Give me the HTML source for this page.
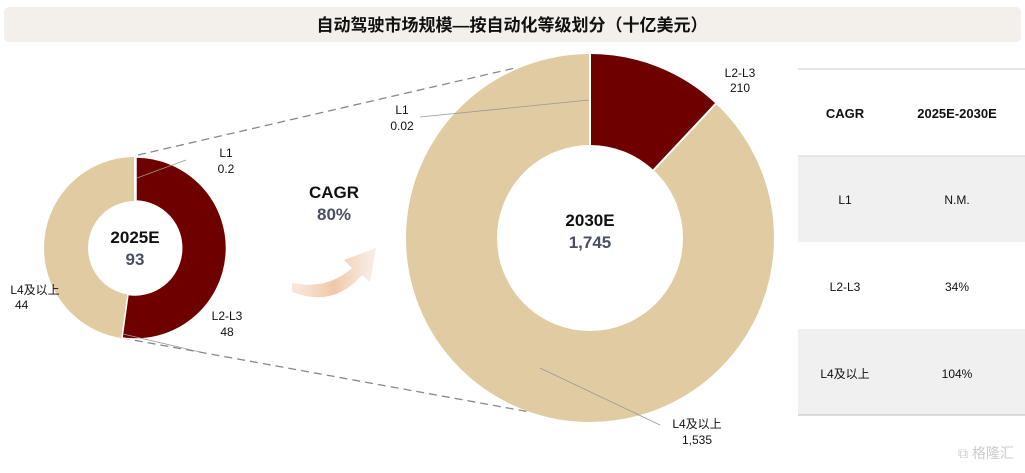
<!DOCTYPE html>
<html><head><meta charset="utf-8"><style>
body{margin:0;width:1025px;height:468px;background:#fff;overflow:hidden;font-family:"Liberation Sans","Noto Sans CJK SC",sans-serif}
</style></head><body>
<svg width="1025" height="468" viewBox="0 0 1025 468" xmlns="http://www.w3.org/2000/svg" font-family="Liberation Sans, Noto Sans CJK SC, sans-serif">
<defs>
<linearGradient id="ag" x1="0" y1="0" x2="1" y2="0">
<stop offset="0" stop-color="#f3d9c4" stop-opacity="0.6"/>
<stop offset="0.5" stop-color="#efc8a8"/>
<stop offset="1" stop-color="#f5e4d6" stop-opacity="0.6"/>
</linearGradient>
</defs>
<rect x="4" y="7" width="1017" height="35" rx="5" fill="#f3efea"/>
<text x="512" y="31" text-anchor="middle" font-size="17" font-weight="bold" fill="#111">自动驾驶市场规模—按自动化等级划分（十亿美元）</text>

<line x1="138" y1="155" x2="515" y2="68" stroke="#888" stroke-width="1.3" stroke-dasharray="8,5"/>
<line x1="122" y1="338" x2="530" y2="412" stroke="#888" stroke-width="1.3" stroke-dasharray="8,5"/>

<circle cx="135" cy="248" r="69" fill="none" stroke="#e0cba2" stroke-width="44"/>
<path d="M136,157 A91,91 0 1 1 122,338 L128,294.5 A47,47 0 1 0 136,201 Z" fill="#6e0000" stroke="#fff" stroke-width="1.5"/>
<line x1="135" y1="157" x2="135" y2="201" stroke="#fff" stroke-width="2"/>
<line x1="137" y1="178" x2="186" y2="160" stroke="#999" stroke-width="0.8"/>
<line x1="123" y1="334" x2="200" y2="352" stroke="#999" stroke-width="0.8"/>
<text x="135" y="243" text-anchor="middle" font-size="17" font-weight="bold" fill="#111">2025E</text>
<text x="135" y="265" text-anchor="middle" font-size="17" font-weight="bold" fill="#4a4f63">93</text>
<text x="226" y="157" text-anchor="middle" font-size="12" fill="#111">L1</text>
<text x="226" y="173" text-anchor="middle" font-size="12" fill="#111">0.2</text>
<text x="227" y="320" text-anchor="middle" font-size="12" fill="#111">L2-L3</text>
<text x="227" y="336" text-anchor="middle" font-size="12" fill="#111">48</text>
<text x="35" y="294" text-anchor="middle" font-size="12" fill="#111">L4及以上</text>
<text x="15" y="309" font-size="12" fill="#111">44</text>

<text x="334" y="198" text-anchor="middle" font-size="17" font-weight="bold" fill="#111">CAGR</text>
<text x="334" y="220" text-anchor="middle" font-size="17" font-weight="bold" fill="#4a4f63">80%</text>
<path d="M292,283 Q328,290 352,268 L344,260 L376,248 L370,282 L362,275 Q334,308 292,292 Z" fill="url(#ag)"/>

<circle cx="590" cy="238" r="138.5" fill="none" stroke="#e0cba2" stroke-width="91"/>
<path d="M590,54 A184,184 0 0 1 715.8,103.7 L653.6,170.1 A93,93 0 0 0 590,145 Z" fill="#6e0000"/>
<line x1="590" y1="54" x2="590" y2="145" stroke="#fff" stroke-width="2"/>
<line x1="715.8" y1="103.7" x2="653.6" y2="170.1" stroke="#fff" stroke-width="2"/>
<line x1="589" y1="100" x2="420" y2="117" stroke="#999" stroke-width="0.8"/>
<line x1="540" y1="368" x2="660" y2="425" stroke="#999" stroke-width="0.8"/>
<text x="590" y="226" text-anchor="middle" font-size="17" font-weight="bold" fill="#111">2030E</text>
<text x="590" y="248" text-anchor="middle" font-size="17" font-weight="bold" fill="#4a4f63">1,745</text>
<text x="402" y="114" text-anchor="middle" font-size="12" fill="#111">L1</text>
<text x="402" y="130" text-anchor="middle" font-size="12" fill="#111">0.02</text>
<text x="740" y="77" text-anchor="middle" font-size="12" fill="#111">L2-L3</text>
<text x="740" y="92" text-anchor="middle" font-size="12" fill="#111">210</text>
<text x="697" y="428" text-anchor="middle" font-size="12" fill="#111">L4及以上</text>
<text x="697" y="444" text-anchor="middle" font-size="12" fill="#111">1,535</text>

<line x1="798" y1="69" x2="1025" y2="69" stroke="#ccc" stroke-width="1"/>
<rect x="798" y="156" width="227" height="86" fill="#f0f0f0"/>
<line x1="798" y1="156" x2="1025" y2="156" stroke="#d8d8d8" stroke-width="1"/>
<rect x="798" y="329" width="227" height="86" fill="#f0f0f0"/>
<line x1="798" y1="415" x2="1025" y2="415" stroke="#bbb" stroke-width="1"/>
<text x="845" y="118" text-anchor="middle" font-size="13" font-weight="bold" fill="#111">CAGR</text>
<text x="957" y="118" text-anchor="middle" font-size="13" font-weight="bold" fill="#111">2025E-2030E</text>
<text x="845" y="204" text-anchor="middle" font-size="12" fill="#111">L1</text>
<text x="957" y="204" text-anchor="middle" font-size="12" fill="#111">N.M.</text>
<text x="845" y="291" text-anchor="middle" font-size="12" fill="#111">L2-L3</text>
<text x="957" y="291" text-anchor="middle" font-size="12" fill="#111">34%</text>
<text x="845" y="378" text-anchor="middle" font-size="12" fill="#111">L4及以上</text>
<text x="957" y="378" text-anchor="middle" font-size="12" fill="#111">104%</text>
<text x="958" y="458" font-size="14" fill="#ccc">⧉ 格隆汇</text>
</svg>
</body></html>
